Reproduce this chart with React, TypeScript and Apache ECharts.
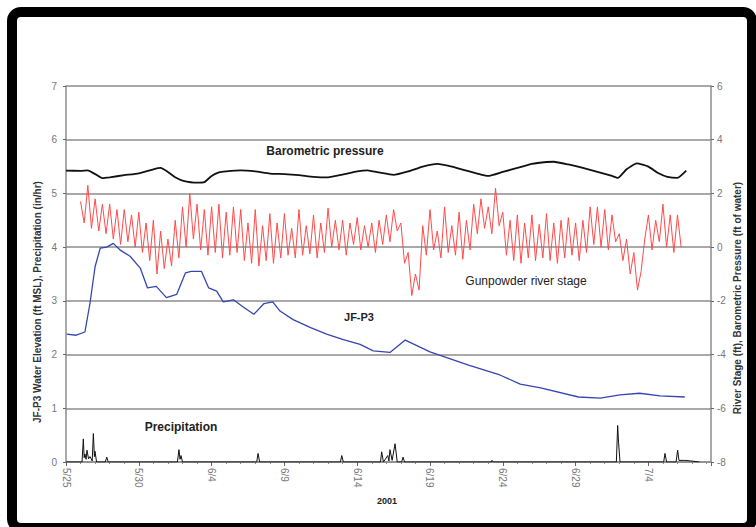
import React, { useEffect, useRef } from "react";
import * as echarts from "echarts";

// Days are counted from 5/25/2001 (day 0)
const xTickDates = ["5/25", "5/30", "6/4", "6/9", "6/14", "6/19", "6/24", "6/29", "7/4"];

// JF-P3 water elevation (ft MSL) - left axis
const jfDays = [0.05, 0.7, 1.3, 1.65, 2.0, 2.35, 2.8, 3.25, 3.7, 4.4, 5.1, 5.6, 6.2, 6.9, 7.6, 8.2, 8.6, 9.3, 9.8, 10.35, 10.8, 11.5, 12.1, 12.9, 13.6, 14.2, 14.7, 15.6, 16.8, 17.9, 19.05, 20.2, 21.1, 22.25, 23.3, 25.0, 27.7, 29.8, 31.2, 32.6, 35.2, 36.7, 38.05, 39.4, 40.8, 42.5];
const jfValues = [2.38, 2.36, 2.42, 2.96, 3.64, 3.98, 4.0, 4.07, 3.95, 3.83, 3.61, 3.24, 3.27, 3.06, 3.12, 3.52, 3.55, 3.55, 3.24, 3.18, 2.98, 3.02, 2.9, 2.75, 2.95, 2.98, 2.81, 2.65, 2.5, 2.38, 2.28, 2.19, 2.07, 2.04, 2.27, 2.05, 1.8, 1.62, 1.45, 1.38, 1.21, 1.19, 1.25, 1.28, 1.23, 1.21];

// Barometric pressure (ft of water) - right axis
const baroDays = [0, 1, 1.5, 2, 2.5, 3, 4, 5, 6, 6.5, 7, 7.5, 8, 9, 9.5, 10, 10.5, 11, 12, 13, 14, 15, 16, 17, 18, 19, 20, 20.7, 21.5, 22.5, 23.5, 24.5, 25.5, 26.5, 27.5, 28.5, 29, 30, 31, 32, 33, 33.5, 34.5, 35.5, 36.5, 37.5, 37.9, 38.5, 39.2, 40, 40.7, 41.3, 42, 42.6];
const baroValues = [2.85, 2.84, 2.86, 2.72, 2.57, 2.6, 2.68, 2.75, 2.9, 2.95, 2.8, 2.6, 2.48, 2.4, 2.42, 2.65, 2.78, 2.82, 2.86, 2.82, 2.74, 2.72, 2.68, 2.62, 2.6, 2.7, 2.82, 2.86, 2.78, 2.69, 2.82, 3.0, 3.1, 3.0, 2.85, 2.7, 2.65, 2.8, 2.95, 3.1, 3.17, 3.18, 3.08, 2.95, 2.8, 2.65, 2.58, 2.9, 3.12, 3.0, 2.75, 2.62, 2.58, 2.85];

// Gunpowder river stage (ft) - right axis; one row per day from day 1, readings every 6 h
const riverStartDay = 1;
const riverRows = [
  [1.7, 0.9, 2.3, 0.7],
  [1.8, 0.6, 1.6, 0.5],
  [1.6, 0.3, 1.4, 0.1],
  [1.4, 0.2, 1.2, 0.0],
  [1.3, -0.2, 0.9, -0.5],
  [1.0, -1.0, 0.6, -0.8],
  [0.3, -0.7, 1.0, -0.4],
  [1.5, 0.0, 2.0, 0.3],
  [1.6, -0.1, 1.4, -0.3],
  [1.5, -0.2, 1.6, -0.4],
  [1.3, -0.3, 1.5, -0.2],
  [1.4, -0.5, 0.9, -0.6],
  [1.4, -0.7, 0.8, -0.5],
  [1.25, -0.6, 0.9, -0.4],
  [1.25, -0.3, 0.7, -0.4],
  [1.4, -0.3, 0.8, -0.25],
  [1.2, -0.4, 0.9, -0.2],
  [1.45, 0.0, 1.0, -0.1],
  [1.0, -0.3, 0.9, 0.1],
  [1.1, -0.1, 0.8, 0.0],
  [0.9, -0.2, 1.0, 0.1],
  [1.2, 0.2, 1.4, 0.6],
  [0.9, -0.6, -0.2, -1.8],
  [-1.0, -1.6, 0.8, -0.3],
  [1.4, -0.1, 0.6, -0.4],
  [1.5, -0.2, 0.8, -0.3],
  [1.3, -0.45, 1.0, -0.1],
  [1.6, 0.5, 1.8, 0.7],
  [1.5, 0.5, 2.2, 0.8],
  [1.3, -0.3, 1.0, -0.5],
  [1.2, -0.6, 0.9, -0.4],
  [1.2, -0.5, 0.85, -0.4],
  [1.25, -0.5, 0.9, -0.6],
  [1.0, -0.4, 1.1, -0.3],
  [0.9, -0.5, 1.0, -0.2],
  [1.5, 0.1, 1.5, 0.0],
  [1.4, -0.1, 1.2, 0.2],
  [0.5, -0.5, 0.3, -1.0],
  [-0.2, -1.6, -0.9, 0.3],
  [1.2, -0.1, 1.0, 0.2],
  [1.6, 0.0, 1.2, -0.2],
  [1.2, 0.0],
];

// Precipitation (in/hr) - left axis
const precipDays = [0, 1.1, 1.19, 1.25, 1.3, 1.38, 1.44, 1.55, 1.65, 1.8, 1.88, 1.95, 1.99, 2.1, 2.7, 2.8, 2.9, 7.65, 7.76, 7.83, 7.9, 8.0, 13.1, 13.19, 13.3, 18.85, 18.94, 19.05, 21.6, 21.68, 21.8, 22.1, 22.18, 22.25, 22.4, 22.6, 22.75, 23.05, 23.15, 23.25, 29.2, 29.26, 29.35, 37.8, 37.89, 37.95, 38.05, 41.05, 41.14, 41.25, 41.9, 42.01, 42.1, 42.5, 42.9, 43.5];
const precipValues = [0, 0, 0.43, 0.08, 0.15, 0.05, 0.22, 0.06, 0.1, 0.02, 0.53, 0.1, 0.2, 0, 0, 0.09, 0, 0, 0.23, 0.05, 0.12, 0, 0, 0.16, 0, 0, 0.12, 0, 0, 0.19, 0, 0.12, 0.02, 0.23, 0.03, 0.34, 0, 0, 0.09, 0, 0, 0.03, 0, 0, 0.68, 0.37, 0, 0, 0.16, 0, 0, 0.22, 0.03, 0.03, 0.02, 0];

const FONT = "Liberation Sans, Arial, sans-serif";

function fmtDay(v: number) {
  const d = new Date(2001, 4, 25 + Math.round(v));
  return `${d.getMonth() + 1}/${d.getDate()}`;
}

export default function App() {
  const ref = useRef<HTMLDivElement>(null);
  useEffect(() => {
    if (!ref.current) return;
    const chart = echarts.init(ref.current, undefined, { renderer: "svg" });

    const riverData: number[][] = [];
    riverRows.forEach((row, i) => {
      row.forEach((v, j) => riverData.push([riverStartDay + i + j * 0.25, v]));
    });

    const gridColor = "#8c8c8c";
    const labelColor = "#777";

    chart.setOption({
      animation: false,
      backgroundColor: "#fff",
      grid: { left: 66, right: 45, top: 86, bottom: 65, containLabel: false },
      xAxis: {
        type: "value",
        min: 0,
        max: 44.3,
        interval: 5,
        axisLine: { show: true, lineStyle: { color: gridColor, width: 1.5 } },
        axisTick: { show: true, length: 4, lineStyle: { color: "#666" } },
        minorTick: { show: true, splitNumber: 5, length: 2, lineStyle: { color: "#888" } },
        splitLine: { show: false },
        axisLabel: {
          rotate: -90,
          color: labelColor,
          fontFamily: FONT,
          fontSize: 10,
          margin: 6,
          showMaxLabel: false,
          formatter: (v: number) => {
            const idx = Math.round(v / 5);
            return xTickDates[idx] ?? fmtDay(v);
          },
        },
      },
      yAxis: [
        {
          type: "value",
          min: 0,
          max: 7,
          interval: 1,
          axisLine: { show: true, lineStyle: { color: gridColor, width: 1.5 } },
          axisTick: { show: true, length: 3, lineStyle: { color: "#666" } },
          splitLine: { show: true, lineStyle: { color: gridColor, width: 1.6 } },
          axisLabel: { color: labelColor, fontFamily: FONT, fontSize: 10, margin: 9 },
        },
        {
          type: "value",
          min: -8,
          max: 6,
          interval: 2,
          position: "right",
          axisLine: { show: true, lineStyle: { color: gridColor, width: 1.5 } },
          axisTick: { show: true, length: 3, lineStyle: { color: "#666" } },
          splitLine: { show: false },
          axisLabel: { color: labelColor, fontFamily: FONT, fontSize: 10, margin: 6 },
        },
      ],
      series: [
        {
          name: "Precipitation",
          type: "line",
          yAxisIndex: 0,
          data: precipDays.map((d, i) => [d, precipValues[i]]),
          symbol: "none",
          lineStyle: { color: "#111", width: 1 },
          z: 3,
        },
        {
          name: "JF-P3",
          type: "line",
          yAxisIndex: 0,
          data: jfDays.map((d, i) => [d, jfValues[i]]),
          symbol: "none",
          lineStyle: { color: "#3646b0", width: 1.3 },
          z: 4,
        },
        {
          name: "Gunpowder river stage",
          type: "line",
          yAxisIndex: 1,
          data: riverData,
          symbol: "none",
          lineStyle: { color: "#ff4a4a", width: 1 },
          z: 3,
        },
        {
          name: "Barometric pressure",
          type: "line",
          yAxisIndex: 1,
          data: baroDays.map((d, i) => [d, baroValues[i]]),
          symbol: "none",
          smooth: 0.15,
          lineStyle: { color: "#111", width: 1.8 },
          z: 5,
        },
      ],
      graphic: [
        {
          type: "rect",
          shape: { x: 12, y: 12, width: 740, height: 516, r: 9 },
          style: { fill: "none", stroke: "#000", lineWidth: 10 },
          z: 100,
        },
        {
          type: "text",
          x: 37,
          y: 302,
          rotation: Math.PI / 2,
          style: {
            text: "JF-P3 Water Elevation (ft MSL), Precipitation (in/hr)",
            font: `bold 10px ${FONT}`,
            fill: "#333",
            align: "center",
            verticalAlign: "middle",
          },
        },
        {
          type: "text",
          x: 737,
          y: 298,
          rotation: Math.PI / 2,
          style: {
            text: "River Stage (ft), Barometric Pressure (ft of water)",
            font: `bold 10px ${FONT}`,
            fill: "#333",
            align: "center",
            verticalAlign: "middle",
          },
        },
        {
          type: "text",
          x: 387,
          y: 501,
          style: { text: "2001", font: `bold 9px ${FONT}`, fill: "#222", align: "center", verticalAlign: "middle" },
        },
        {
          type: "text",
          x: 325,
          y: 151,
          style: { text: "Barometric pressure", font: `bold 12px ${FONT}`, fill: "#222", align: "center", verticalAlign: "middle" },
        },
        {
          type: "text",
          x: 526,
          y: 281,
          style: { text: "Gunpowder river stage", font: `12px ${FONT}`, fill: "#222", align: "center", verticalAlign: "middle" },
        },
        {
          type: "text",
          x: 359,
          y: 317,
          style: { text: "JF-P3", font: `bold 11px ${FONT}`, fill: "#222", align: "center", verticalAlign: "middle" },
        },
        {
          type: "text",
          x: 181,
          y: 427,
          style: { text: "Precipitation", font: `bold 12px ${FONT}`, fill: "#222", align: "center", verticalAlign: "middle" },
        },
      ],
    });
    return () => chart.dispose();
  }, []);

  return (
    <div
      ref={ref}
      style={{ position: "fixed", left: 0, top: 0, width: 756, height: 527, background: "#fff" }}
    />
  );
}
